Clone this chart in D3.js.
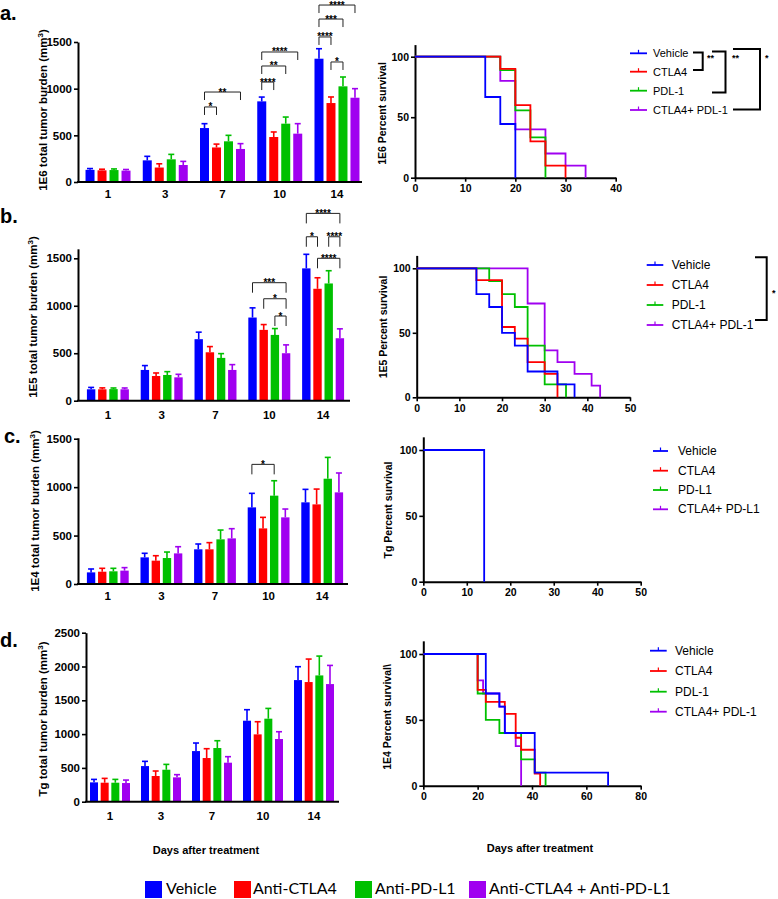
<!DOCTYPE html>
<html><head><meta charset="utf-8">
<script src="https://cdn.jsdelivr.net/npm/d3@7"></script>
<style>
body{margin:0;background:#fff}
svg{display:block}
text{font-family:"Liberation Sans",Arial,sans-serif}
</style>
</head><body>
<svg id="c" width="778" height="899"></svg>
<script>
// ---------------- DATA ----------------
const days = ["1","3","7","10","14"];
const seriesNames = ["Vehicle","Anti-CTLA4","Anti-PD-L1","Anti-CTLA4 + Anti-PD-L1"];
const colors = ["#0000ff","#ff0000","#00c000","#a000f0"];

// panel a (1E6) mean / SEM
const a_vehicle = [130,232,578,864,1321];
const a_ctla4   = [125,155,370,482,846];
const a_pdl1    = [128,243,436,625,1025];
const a_combo   = [122,182,354,518,903];
const a_vehicle_err = [14,43,47,46,107];
const a_ctla4_err   = [12,40,36,54,65];
const a_pdl1_err    = [12,53,64,71,100];
const a_combo_err   = [12,39,57,107,97];
// panel b (1E5)
const b_vehicle = [120,324,648,876,1394];
const b_ctla4   = [120,260,510,746,1179];
const b_pdl1    = [122,271,451,693,1235];
const b_combo   = [120,246,324,500,658];
const b_vehicle_err = [20,46,74,102,148];
const b_ctla4_err   = [15,32,60,56,116];
const b_pdl1_err    = [12,35,45,67,134];
const b_combo_err   = [14,32,56,88,99];
// panel c (1E4)
const c_vehicle = [120,275,358,791,843];
const c_ctla4   = [127,241,358,574,822];
const c_pdl1    = [131,268,461,912,1087];
const c_combo   = [138,316,471,688,946];
const c_vehicle_err = [35,42,55,145,134];
const c_ctla4_err   = [35,51,69,114,158];
const c_pdl1_err    = [31,62,96,154,220];
const c_combo_err   = [31,69,100,86,200];
// panel d (Tg)
const d_vehicle = [286,527,749,1198,1799];
const d_ctla4   = [281,380,646,996,1770];
const d_pdl1    = [281,473,794,1228,1868];
const d_combo   = [276,360,577,927,1740];
const d_vehicle_err = [44,70,119,163,198];
const d_ctla4_err   = [64,74,138,187,340];
const d_pdl1_err    = [49,79,108,152,286];
const d_combo_err   = [44,40,89,108,276];

// significance brackets: [day, seriesA, seriesB, height (mm3), label]
const a_brackets = [["7",0,1,804,"*"],["7",0,3,964,"**"],["10",0,1,1071,"****"],["10",0,2,1243,"**"],
  ["10",0,3,1393,"****"],["14",0,1,1554,"****"],["14",1,2,1286,"*"],["14",0,2,1746,"***"],["14",0,3,1896,"****"]];
const b_brackets = [["10",0,3,1243,"***"],["10",1,3,1074,"*"],["10",2,3,892,"*"],["14",0,3,1973,"****"],
  ["14",0,1,1727,"*"],["14",2,3,1727,"****"],["14",1,3,1500,"****"]];
const c_brackets = [["10",0,2,1235,"*"]];
const d_brackets = [];

// survival step data: [day, percent survival from that day on]
const sa_vehicle = [[0,100],[14,66.7],[17,44.4],[20,0]];
const sa_ctla4   = [[0,100],[17,90],[20,60],[23,30],[26,10],[30,0]];
const sa_pdl1    = [[0,100],[17,88.9],[20,55.6],[23,33.3],[26,0]];
const sa_combo   = [[0,100],[17,80],[20,40],[26,20],[30,10],[34,0]];
const sb_vehicle = [[0,100],[14,80],[17,70],[20,50],[23,40],[26,20],[33,10],[37,0]];
const sb_ctla4   = [[0,100],[14,90.9],[20,54.5],[23,45.5],[26,27.3],[30,18.2],[33,0]];
const sb_pdl1    = [[0,100],[17,90],[20,80],[23,70],[26,40],[30,10],[35,0]];
const sb_combo   = [[0,100],[26,72.7],[30,36.4],[33,27.3],[37,18.2],[41,9.1],[43,0]];
const sc_vehicle = [[0,100],[14,0]];
const sc_ctla4 = [], sc_pdl1 = [], sc_combo = [];
const sd_vehicle = [[0,100],[23,70],[28,60],[30,40],[41,10],[68,0]];
const sd_ctla4   = [[0,100],[20,72.7],[23,63.6],[30,54.5],[34,36.4],[36,27.3],[41,9.1],[43,0]];
const sd_pdl1    = [[0,100],[20,70],[23,50],[28,40],[36,20],[41,10],[45,0]];
const sd_combo   = [[0,100],[20,80],[22,70],[28,60],[30,40],[34,30],[36,0]];

const legendA = ["Vehicle","CTLA4","PDL-1","CTLA4+ PDL-1"];
const legendB = ["Vehicle","CTLA4","PDL-1","CTLA4+ PDL-1"];
const legendC = ["Vehicle","CTLA4","PD-L1","CTLA4+ PD-L1"];
const legendD = ["Vehicle","CTLA4","PDL-1","CTLA4+ PDL-1"];

// ---------------- DRAWING ----------------
const svg = d3.select("#c");
const fmt = d3.format("d");

function styleAxis(g, size){
  g.attr("font-family",null).attr("font-size",null);
  g.select(".domain").attr("stroke","#000").attr("stroke-width",2);
  g.selectAll(".tick line").attr("stroke","#000").attr("stroke-width",1.6);
  g.selectAll(".tick text").attr("fill","#000").style("font-size",size+"px").style("font-weight","bold")
    .style("font-family","'Liberation Sans',Arial,sans-serif");
}

function drawBar(cfg){
  const g = svg.append("g");
  const x0 = d3.scaleBand().domain(days).range(cfg.band).paddingInner(cfg.pad).paddingOuter(cfg.pad/2);
  const x1 = d3.scaleBand().domain(d3.range(4)).range([0, x0.bandwidth()]).paddingInner(0.25);
  const ppu = (cfg.base - cfg.refPx)/cfg.refVal;
  const y = d3.scaleLinear().domain([0, cfg.axisTop]).range([cfg.base, cfg.base - cfg.axisTop*ppu]);
  const bw = x1.bandwidth();
  cfg.means.forEach((m, s) => {
    days.forEach((d, i) => {
      const cx = x0(d) + x1(s) + bw/2;
      const top = y(m[i] + cfg.errs[s][i]);
      g.append("line").attr("x1",cx).attr("x2",cx).attr("y1",y(m[i])).attr("y2",top)
        .attr("stroke",colors[s]).attr("stroke-width",1.6);
      g.append("line").attr("x1",cx-3).attr("x2",cx+3).attr("y1",top).attr("y2",top)
        .attr("stroke",colors[s]).attr("stroke-width",1.6);
      g.append("rect").attr("x",x0(d)+x1(s)).attr("width",bw)
        .attr("y",y(m[i])).attr("height",cfg.base - y(m[i])).attr("fill",colors[s]);
    });
  });
  // y axis
  const gy = g.append("g").attr("transform",`translate(${cfg.x0},0)`)
    .call(d3.axisLeft(y).tickValues(cfg.ticks).tickFormat(fmt).tickSize(4).tickSizeOuter(0).tickPadding(2));
  styleAxis(gy, 11.5);
  // x axis
  g.append("line").attr("x1",cfg.x0-1).attr("x2",cfg.xEnd).attr("y1",cfg.base).attr("y2",cfg.base)
    .attr("stroke","#000").attr("stroke-width",2);
  const gx = g.append("g").attr("transform",`translate(0,${cfg.base})`)
    .call(d3.axisBottom(x0).tickSize(0).tickPadding(cfg.labPad));
  gx.select(".domain").remove();
  styleAxis(gx, 11.5);
  // brackets
  cfg.brackets.forEach(([day,s1,s2,h,lab]) => {
    const xa = x0(day)+x1(s1)+bw/2, xb = x0(day)+x1(s2)+bw/2, yy = y(h);
    g.append("path").attr("d",`M${xa},${yy+cfg.leg}V${yy}H${xb}V${yy+cfg.leg}`)
      .attr("fill","none").attr("stroke","#222").attr("stroke-width",1);
    g.append("text").attr("x",(xa+xb)/2).attr("y",yy+3.5).attr("text-anchor","middle")
      .style("font-size","10px").style("font-weight","bold").text(lab);
  });
  // title
  const t = g.append("text").attr("transform",`translate(${cfg.tx},${cfg.ty}) rotate(-90)`)
    .attr("text-anchor","middle").style("font-size","11.5px").style("font-weight","bold");
  t.append("tspan").text(cfg.title + " total tumor burden (mm");
  t.append("tspan").attr("dy",-4.5).style("font-size","8px").text("3");
  t.append("tspan").attr("dy",4.5).text(")");
  // letter
  g.append("text").attr("x",cfg.lx).attr("y",cfg.ly).style("font-size","20px").style("font-weight","bold").text(cfg.letter);
}

function drawSurv(cfg){
  const g = svg.append("g");
  const x = d3.scaleLinear().domain([0,cfg.xMax]).range([cfg.xL,cfg.xR]);
  const y = d3.scaleLinear().domain([0,110]).range([cfg.y0, cfg.y0 - (cfg.y0-cfg.y100)*1.1]);
  const gx = g.append("g").attr("transform",`translate(0,${cfg.y0})`)
    .call(d3.axisBottom(x).tickValues(d3.range(0,cfg.xMax+1,cfg.xStep)).tickFormat(fmt).tickSize(4).tickSizeOuter(0).tickPadding(3));
  styleAxis(gx, 10.5);
  const gy = g.append("g").attr("transform",`translate(${cfg.xL},0)`)
    .call(d3.axisLeft(y).tickValues([0,50,100]).tickFormat(fmt).tickSize(4).tickSizeOuter(0).tickPadding(2));
  styleAxis(gy, 10.5);
  const line = d3.line().x(d=>x(d[0])).y(d=>y(d[1])).curve(d3.curveStepAfter);
  [3,2,1,0].forEach(s => {
    if (cfg.curves[s].length) g.append("path").attr("d",line(cfg.curves[s]))
      .attr("fill","none").attr("stroke",colors[s]).attr("stroke-width",1.8);
  });
  g.append("text").attr("transform",`translate(${cfg.tx},${cfg.ty}) rotate(-90)`)
    .attr("text-anchor","middle").style("font-size","10.5px").style("font-weight","bold").text(cfg.title);
  // legend
  cfg.legend.forEach((lab,i) => {
    const ly = cfg.rows[i];
    g.append("line").attr("x1",cfg.lx0).attr("x2",cfg.lx1).attr("y1",ly).attr("y2",ly)
      .attr("stroke",colors[i]).attr("stroke-width",1.8);
    const mx = (cfg.lx0+cfg.lx1)/2;
    g.append("line").attr("x1",mx).attr("x2",mx).attr("y1",ly-3.5).attr("y2",ly)
      .attr("stroke",colors[i]).attr("stroke-width",1.2);
    g.append("text").attr("x",cfg.tx0).attr("y",ly+4).style("font-size",cfg.lfs+"px").text(lab);
  });
  (cfg.legBrackets||[]).forEach(b => {
    g.append("path").attr("d",`M${b.xa},${b.yt}H${b.xb}V${b.yb}H${b.xa}`)
      .attr("fill","none").attr("stroke","#000").attr("stroke-width",2);
    g.append("text").attr("x",b.sx).attr("y",b.sy).style("font-size","9px").style("font-weight","bold").text(b.lab);
  });
}

drawBar({means:[a_vehicle,a_ctla4,a_pdl1,a_combo], errs:[a_vehicle_err,a_ctla4_err,a_pdl1_err,a_combo_err],
  brackets:a_brackets, band:[79.4,365.6], pad:0.214, x0:78, xEnd:362, base:182, refPx:42, refVal:1500, axisTop:1500,
  ticks:[0,500,1000,1500], labPad:8, leg:8, title:"1E6", tx:47, ty:110, letter:"a.", lx:0, ly:20});
drawBar({means:[b_vehicle,b_ctla4,b_pdl1,b_combo], errs:[b_vehicle_err,b_ctla4_err,b_pdl1_err,b_combo_err],
  brackets:b_brackets, band:[81,350], pad:0.22, x0:78, xEnd:350, base:400.7, refPx:258.3, refVal:1500, axisTop:1600,
  ticks:[0,500,1000,1500], labPad:10, leg:10, title:"1E5", tx:37, ty:317, letter:"b.", lx:0, ly:223});
drawBar({means:[c_vehicle,c_ctla4,c_pdl1,c_combo], errs:[c_vehicle_err,c_ctla4_err,c_pdl1_err,c_combo_err],
  brackets:c_brackets, band:[81,349], pad:0.22, x0:78, xEnd:348, base:584, refPx:438.7, refVal:1500, axisTop:1510,
  ticks:[0,500,1000,1500], labPad:8, leg:10, title:"1E4", tx:39, ty:511, letter:"c.", lx:4, ly:443});
drawBar({means:[d_vehicle,d_ctla4,d_pdl1,d_combo], errs:[d_vehicle_err,d_ctla4_err,d_pdl1_err,d_combo_err],
  brackets:d_brackets, band:[84.5,339.5], pad:0.216, x0:86, xEnd:339, base:801.7, refPx:632.7, refVal:2500, axisTop:2500,
  ticks:[0,500,1000,1500,2000,2500], labPad:10, leg:10, title:"Tg", tx:47, ty:719, letter:"d.", lx:0, ly:647});

drawSurv({curves:[sa_vehicle,sa_ctla4,sa_pdl1,sa_combo], xMax:40, xStep:10, xL:415, xR:615.7, y0:177.7, y100:56.7,
  title:"1E6 Percent survival", tx:386, ty:113.5, legend:legendA, rows:[53.3,71.7,90.7,110], lx0:630, lx1:647, tx0:653, lfs:11,
  legBrackets:[{xa:693,xb:702.7,yt:52.5,yb:70,sx:707,sy:61,lab:"**"},
               {xa:712,xb:725.5,yt:51.5,yb:92.5,sx:732,sy:61,lab:"**"},
               {xa:733,xb:760,yt:49,yb:109.5,sx:765,sy:61,lab:"*"}]});
drawSurv({curves:[sb_vehicle,sb_ctla4,sb_pdl1,sb_combo], xMax:50, xStep:10, xL:416.7, xR:630, y0:397.3, y100:268.3,
  title:"1E5 Percent survival", tx:387, ty:327, legend:legendB, rows:[265,285,305,325], lx0:646.7, lx1:663.3, tx0:671.7, lfs:12,
  legBrackets:[{xa:755,xb:766.7,yt:257.3,yb:320,sx:772,sy:296,lab:"*"}]});
drawSurv({curves:[sc_vehicle,sc_ctla4,sc_pdl1,sc_combo], xMax:50, xStep:10, xL:423.3, xR:640.7, y0:581.7, y100:450,
  title:"Tg Percent survival", tx:392, ty:510, legend:legendC, rows:[451,470.7,490,509.3], lx0:653, lx1:668, tx0:678, lfs:12});
drawSurv({curves:[sd_vehicle,sd_ctla4,sd_pdl1,sd_combo], xMax:80, xStep:20, xL:423.3, xR:640.7, y0:785.7, y100:654,
  title:"1E4 Percent survival\\", tx:391, ty:717, legend:legendD, rows:[650.7,671,691.7,711.7], lx0:650, lx1:666.7, tx0:675, lfs:12});

// x titles
[[206,854],[540,852]].forEach(([x,y]) => svg.append("text").attr("x",x).attr("y",y).attr("text-anchor","middle")
  .style("font-size","11px").style("font-weight","bold").text("Days after treatment"));

// bottom legend
const legSq = [145,234,355,469], legTx = [166,253,375,489];
seriesNames.forEach((n,i) => {
  svg.append("rect").attr("x",legSq[i]).attr("y",881).attr("width",17).attr("height",17).attr("fill",colors[i]);
  svg.append("text").attr("x",legTx[i]).attr("y",894).style("font-family","Lato,'Open Sans',sans-serif")
    .style("font-size","16px").text(n);
});
</script>
</body></html>
